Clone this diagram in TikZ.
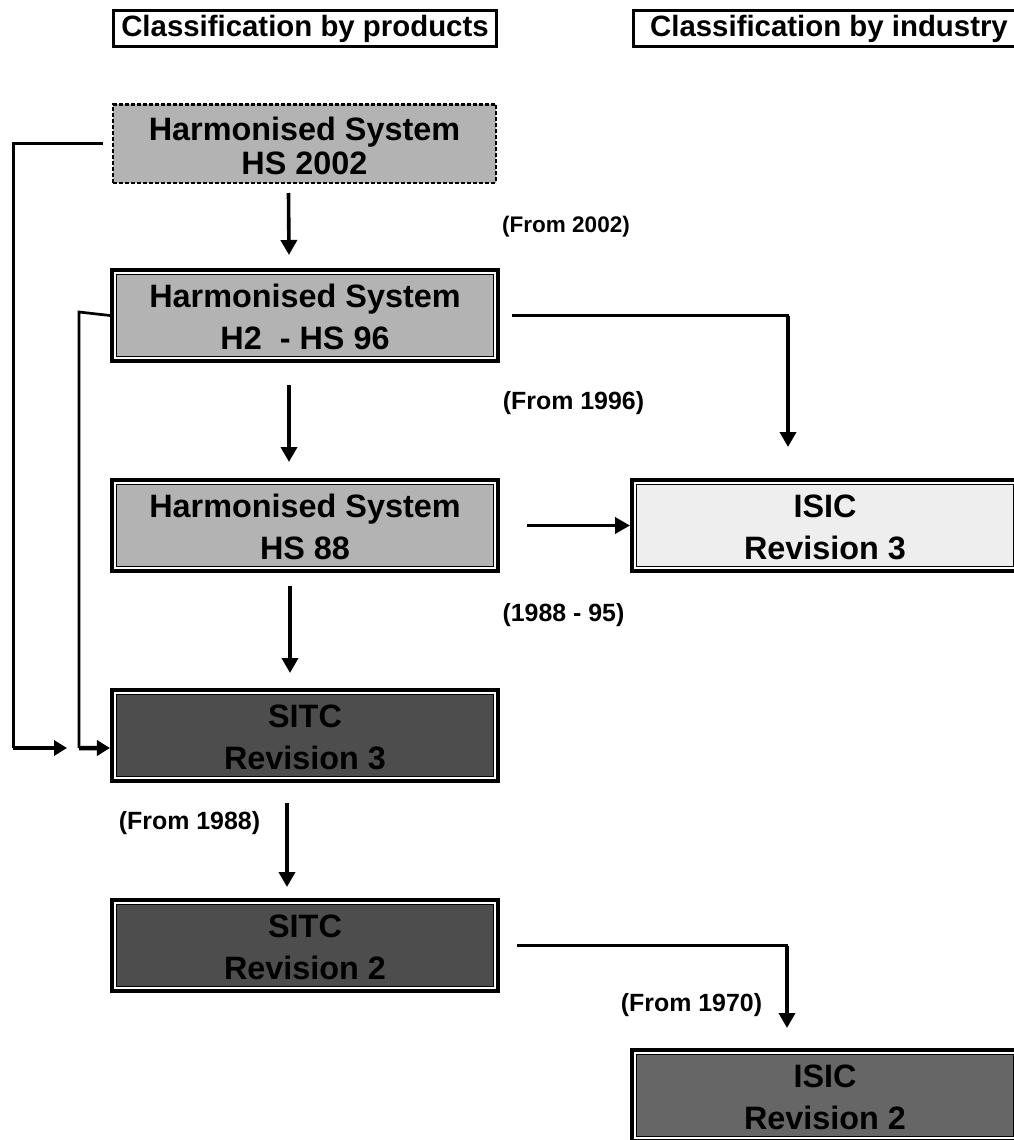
\documentclass[tikz,border=0pt]{standalone}
\usepackage{fontspec}
\setmainfont{Liberation Sans}
\usetikzlibrary{arrows.meta}
\definecolor{hsgray}{RGB}{179,179,179}
\definecolor{isicl}{RGB}{238,238,238}
\definecolor{sitcd}{RGB}{77,77,77}
\definecolor{isicd}{RGB}{102,102,102}
\newcommand\boxfont{\fontsize{32.5}{42}\selectfont\bfseries}
\newcommand\topfont{\fontsize{32.5}{34}\selectfont\bfseries}
\newcommand\firstln[1]{\rule{0pt}{26.3bp}#1}
\newcommand\dbox[4]{%
  \node[dboxst, fill=#3] (#1) at (#2) {#4};
  \draw[white, line width=1.8bp] ([shift={(4.8bp,-4.8bp)}]#1.north west) rectangle ([shift={(-4.8bp,4.8bp)}]#1.south east);
  \draw[black, line width=1.6bp] ([shift={(6.4bp,-6.4bp)}]#1.north west) rectangle ([shift={(-6.4bp,6.4bp)}]#1.south east);
}
\tikzset{
  dboxst/.style={draw, line width=4bp, minimum width=386bp, minimum height=91bp,
    inner sep=0pt, align=center, font=\boxfont},
  hdr/.style={draw, line width=3bp, minimum height=36bp, inner sep=0pt,
    font=\fontsize{29.5}{30}\selectfont\bfseries},
  lab/.style={inner sep=0pt, font=\fontsize{25}{25}\selectfont\bfseries},
  arr/.style={line width=3.6bp, -{Triangle[length=15bp,width=16bp]}},
  larr/.style={line width=4.5bp, -{Triangle[length=13bp,width=15bp]}},
  conn/.style={line width=2.4bp, line cap=rect},
  lconn/.style={line width=3bp},
}
\begin{document}
\begin{tikzpicture}[x=1bp,y=-1bp]
\useasboundingbox (0,0) rectangle (1014,1140);
\clip (0,0) rectangle (1014,1140);

% headers
\node[hdr, minimum width=383bp] (hp) at (305,28.5) {Classification by products};
\node[hdr, minimum width=391bp] (hi) at (829,28.5) {Classification by industry};

% boxes
\node[draw, dash pattern=on 4bp off 2bp, line width=2.5bp, fill=hsgray,
  minimum width=382.5bp, minimum height=78.5bp, inner sep=0pt, align=center,
  font=\topfont] (hs02) at (304.5,143.5) {\rule{0pt}{28.3bp}Harmonised System\\HS 2002};
\dbox{hs96}{305,315.5}{hsgray}{\firstln{Harmonised System}\\H2 \ - HS 96}
\dbox{hs88}{305,525.5}{hsgray}{\firstln{Harmonised System}\\HS 88}
\dbox{sitc3}{305,735.5}{sitcd}{\firstln{SITC}\\Revision 3}
\dbox{sitc2}{305,945.5}{sitcd}{\firstln{SITC}\\Revision 2}
\dbox{isic3}{825,525.5}{isicl}{\firstln{ISIC}\\Revision 3}
\dbox{isic2}{825,1095.5}{isicd}{\firstln{ISIC}\\Revision 2}

% labels
\node[inner sep=0pt, font=\fontsize{22.6}{23}\selectfont\bfseries] (l02) at (566,227) {(From 2002)};
\node[lab] (l96) at (573.5,403) {(From 1996)};
\node[lab] (l8895) at (563.5,615) {(1988 - 95)};
\node[lab] (l88) at (189.5,823) {(From 1988)};
\node[lab] (l70) at (691.5,1005) {(From 1970)};

% vertical arrows in products column
\draw[arr] ([xshift=-16bp,yshift=-9bp]hs02.south) -- ([xshift=-16bp,yshift=13bp]hs96.north);
\draw[arr] ([xshift=-16bp,yshift=-22bp]hs96.south) -- ([xshift=-16bp,yshift=16bp]hs88.north);
\draw[arr] ([xshift=-15bp,yshift=-13bp]hs88.south) -- ([xshift=-15bp,yshift=15bp]sitc3.north);
\draw[arr] ([xshift=-18bp,yshift=-20bp]sitc3.south) -- ([xshift=-18bp,yshift=11bp]sitc2.north);

% right connectors
\coordinate (k1) at (788,315.5);
\coordinate (t1) at (788,447);
\draw[conn] ([xshift=13bp]hs96.east) -- (k1);
\draw[arr] (k1) -- (t1);
\draw[arr] ([xshift=27bp]hs88.east) -- (isic3.west);
\coordinate (k2) at (787,945.5);
\coordinate (t2) at (787,1028);
\draw[conn] ([xshift=18bp]sitc2.east) -- (k2);
\draw[arr] (k2) -- (t2);

% left connectors
\coordinate (c1) at (13,748);
\coordinate (c1t) at (67,748);
\draw[lconn] ([xshift=-9bp]hs02.west) -| (c1);
\draw[larr] (c1) -- (c1t);
\coordinate (c2a) at (79,312);
\coordinate (c2) at (79,748);
\draw[lconn, line width=2.7bp] (hs96.west) -- (c2a) -- (c2);
\draw[larr] (c2) -- ([yshift=-12.5bp]sitc3.west);
\end{tikzpicture}
\end{document}
